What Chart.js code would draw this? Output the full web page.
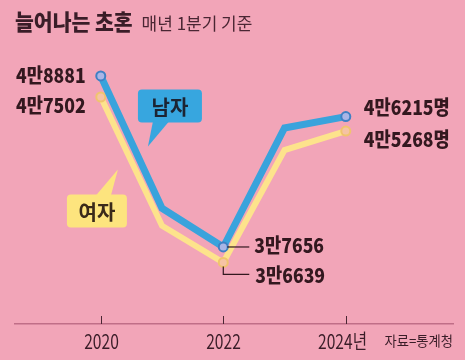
<!DOCTYPE html>
<html>
<head>
<meta charset="utf-8">
<script src="https://cdn.jsdelivr.net/npm/chart.js@4"></script>
<style>
    html, body { margin: 0; padding: 0; background: #f2a5b8; }
    #wrap { width: 465px; height: 360px; }
</style>
</head>
<body>
<div id="wrap"><canvas id="chart" width="465" height="360"></canvas></div>
<script>
// data (1st quarter of every year)
var years = [2020, 2021, 2022, 2023, 2024];
var tickYears = [2020, 2022, 2024];
var maleValues = [48881, 40200, 37656, 45470, 46215];
var femaleValues = [47502, 39050, 36639, 44020, 45268];
var maleLabels = ['4만8881', '', '3만7656', '', '4만6215명'];
var femaleLabels = ['4만7502', '', '3만6639', '', '4만5268명'];

var KR = "'Noto Sans CJK KR', sans-serif";
var INK = '#33181f';

function toPoints(values) {
    return values.map(function (v, i) { return { x: years[i], y: v }; });
}

// narrow text helper, the original uses a condensed gothic
function narrowText(ctx, txt, x, y, sx) {
    ctx.save();
    ctx.translate(x, y);
    ctx.scale(sx, 1);
    ctx.fillText(txt, 0, 0);
    ctx.restore();
}

// label placement, relative to the point: [dx, dy, align, connector]
var maleLabelPos = [[-15, -2, 'right'], null, [31, -3, 'left', 'flat'], null, [18, -10, 'left']];
var femaleLabelPos = [[-15, 7, 'right'], null, [32, 12, 'left', 'elbow'], null, [18, 7, 'left']];

var valueLabels = {
    id: 'valueLabels',
    afterDatasetsDraw: function (chart) {
        var ctx = chart.ctx;
        var sets = [[0, maleLabels, maleLabelPos], [1, femaleLabels, femaleLabelPos]];
        ctx.save();
        ctx.font = '900 20px ' + KR;
        ctx.fillStyle = INK;
        ctx.strokeStyle = INK;
        ctx.lineWidth = 1.2;
        ctx.textBaseline = 'middle';
        sets.forEach(function (s) {
            var meta = chart.getDatasetMeta(s[0]);
            s[1].forEach(function (txt, i) {
                var pos = s[2][i];
                if (!txt || !pos) return;
                var p = meta.data[i];
                var tx = p.x + pos[0], ty = p.y + pos[1];
                if (pos[3] === 'flat') {
                    ctx.beginPath();
                    ctx.moveTo(p.x + 4, p.y);
                    ctx.lineTo(tx - 5, p.y);
                    ctx.stroke();
                } else if (pos[3] === 'elbow') {
                    ctx.beginPath();
                    ctx.moveTo(p.x, p.y + 4);
                    ctx.lineTo(p.x, ty);
                    ctx.lineTo(tx - 6, ty);
                    ctx.stroke();
                }
                ctx.textAlign = pos[2];
                narrowText(ctx, txt, tx, ty + 1, 0.88);
            });
        });
        ctx.restore();
    }
};

function bubble(ctx, box, tip, base, fill) {
    ctx.fillStyle = fill;
    ctx.beginPath();
    ctx.roundRect(box[0], box[1], box[2], box[3], 4);
    ctx.fill();
    ctx.beginPath();
    ctx.moveTo(base[0], base[1]);
    ctx.lineTo(base[2], base[3]);
    ctx.lineTo(tip[0], tip[1]);
    ctx.closePath();
    ctx.fill();
}

var decorations = {
    id: 'decorations',
    afterDraw: function (chart) {
        var ctx = chart.ctx;
        var xs = chart.scales.x, ys = chart.scales.y;
        var area = chart.chartArea;
        ctx.save();

        // title + subtitle
        ctx.fillStyle = '#3a1d28';
        ctx.textBaseline = 'alphabetic';
        ctx.textAlign = 'left';
        ctx.font = '900 22px ' + KR;
        var tw = ctx.measureText('늘어나는 초혼').width * 0.93;
        narrowText(ctx, '늘어나는 초혼', 15, 30, 0.93);
        ctx.font = '17.5px ' + KR;
        ctx.fillStyle = '#4a2633';
        narrowText(ctx, '매년 1분기 기준', 15 + tw + 9, 30, 0.97);

        // small ticks standing on the axis line, and their labels
        ctx.strokeStyle = '#4a2633';
        ctx.lineWidth = 1;
        ctx.fillStyle = '#3a1d28';
        ctx.font = '20px ' + KR;
        ctx.textAlign = 'center';
        ctx.textBaseline = 'middle';
        xs.ticks.forEach(function (t) {
            var x = Math.round(xs.getPixelForValue(t.value)) + 0.5;
            ctx.beginPath();
            ctx.moveTo(x, area.bottom - 8);
            ctx.lineTo(x, area.bottom);
            ctx.stroke();
            var lbl = t.value === 2024 ? t.value + '년' : String(t.value);
            narrowText(ctx, lbl, x - (t.value === 2024 ? 4 : 0), area.bottom + 17, 0.78);
        });

        // source note
        ctx.font = '14px ' + KR;
        ctx.textAlign = 'right';
        narrowText(ctx, '자료=통계청', 453, 341, 0.95);

        // series callouts
        var mt = [xs.getPixelForValue(2020.77), ys.getPixelForValue(44250)];
        bubble(ctx, [mt[0] - 10, mt[1] - 57, 64, 33], mt, [mt[0] + 5, mt[1] - 25, mt[0] + 21, mt[1] - 25], '#37a6df');
        var ft = [xs.getPixelForValue(2020.28), ys.getPixelForValue(42750)];
        bubble(ctx, [ft[0] - 51, ft[1] + 25, 60, 33], ft, [ft[0] - 22, ft[1] + 26, ft[0] - 7, ft[1] + 26], '#fde47e');
        ctx.font = 'bold 20px ' + KR;
        ctx.textAlign = 'center';
        ctx.textBaseline = 'middle';
        ctx.fillStyle = '#1c2433';
        ctx.fillText('남자', mt[0] + 22, mt[1] - 39);
        ctx.fillStyle = '#3a2a1a';
        ctx.fillText('여자', ft[0] - 21, ft[1] + 43);

        ctx.restore();
    }
};

new Chart(document.getElementById('chart'), {
    type: 'line',
    data: {
        datasets: [{
            label: '남자',
            data: toPoints(maleValues),
            borderColor: '#39a3dc',
            borderWidth: 7,
            borderJoinStyle: 'miter',
            pointRadius: [4.5, 0, 4.5, 0, 4.5],
            pointBorderWidth: 2,
            pointBackgroundColor: '#a9b5e6',
            pointBorderColor: '#3f80c4',
            tension: 0
        }, {
            label: '여자',
            data: toPoints(femaleValues),
            borderColor: '#fde38c',
            borderWidth: 6,
            borderJoinStyle: 'miter',
            pointRadius: [4.5, 0, 4.5, 0, 4.5],
            pointBorderWidth: 2,
            pointBackgroundColor: '#f6c3a4',
            pointBorderColor: '#f0c46e',
            tension: 0
        }]
    },
    options: {
        responsive: false,
        animation: false,
        layout: { padding: { left: 15, right: 12, top: 60, bottom: 36 } },
        plugins: {
            legend: { display: false },
            tooltip: { enabled: false }
        },
        scales: {
            x: {
                type: 'linear',
                min: 2018.6,
                max: 2025.75,
                afterBuildTicks: function (scale) {
                    scale.ticks = tickYears.map(function (v) { return { value: v }; });
                },
                grid: { display: false, drawTicks: false },
                border: { display: true, color: '#c06e87', width: 1.5 },
                ticks: { display: false }
            },
            y: {
                display: false,
                min: 32600,
                max: 49930
            }
        }
    },
    plugins: [valueLabels, decorations]
});
</script>
</body>
</html>
